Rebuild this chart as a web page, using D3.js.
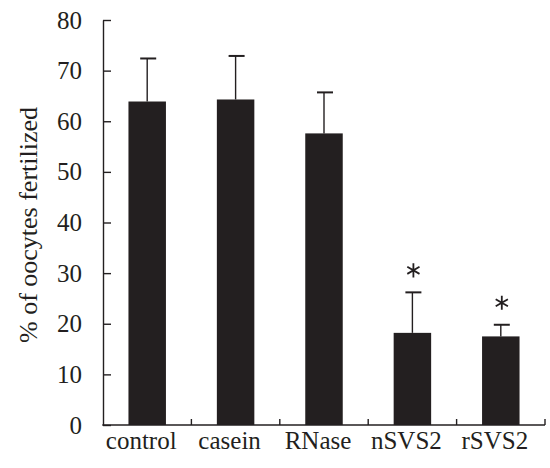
<!DOCTYPE html>
<html>
<head>
<meta charset="utf-8">
<script src="https://d3js.org/d3.v7.min.js"></script>
<style>
  html, body { margin: 0; padding: 0; background: #fff; }
  svg { display: block; }
  text { font-family: "Liberation Serif", "Times New Roman", serif; fill: #231f20; }
</style>
</head>
<body>
<svg id="chart" width="550" height="468"></svg>
<script>
const categories = ["control", "casein", "RNase", "nSVS2", "rSVS2"];
const means = [63.9, 64.3, 57.6, 18.2, 17.5];
const errors = [8.5, 8.6, 8.1, 8.0, 2.3];
const significant = [false, false, false, true, true];
const yTicks = [0, 10, 20, 30, 40, 50, 60, 70, 80];
const yLabel = "% of oocytes fertilized";

(function () {
const ink = "#231f20";
const svg = d3.select("#chart");
const mLeft = 103, mRight = 545, mTop = 20, mBottom = 425;

const x = d3.scaleBand().domain(categories).range([mLeft, mRight])
  .paddingInner(0.576).paddingOuter(0.288);
const y = d3.scaleLinear().domain([0, 80]).range([mBottom, mTop]);

// Bars
svg.append("g").selectAll("rect").data(categories).join("rect")
  .attr("x", d => x(d))
  .attr("y", (d, i) => y(means[i]))
  .attr("width", x.bandwidth())
  .attr("height", (d, i) => y(0) - y(means[i]))
  .attr("fill", ink);

// Error bars (upper only) + significance asterisks
const eg = svg.append("g").attr("stroke", ink);
const ast = d3.symbol().type(d3.symbolAsterisk || d3.symbolCross).size(140);
categories.forEach((c, i) => {
  const cx = x(c) + x.bandwidth() / 2;
  const yt = y(means[i] + errors[i]);
  eg.append("line").attr("x1", cx).attr("x2", cx)
    .attr("y1", y(means[i])).attr("y2", yt)
    .attr("stroke-width", 1.4);
  eg.append("line").attr("x1", cx - 7).attr("x2", cx + 9)
    .attr("y1", yt).attr("y2", yt)
    .attr("stroke-width", 2);
  if (significant[i]) {
    svg.append("path").attr("d", ast())
      .attr("transform", `translate(${cx + 1},${yt - 22})`)
      .attr("fill", "none").attr("stroke", ink).attr("stroke-width", 1.8);
  }
});

// Y axis
const yAxis = svg.append("g").attr("transform", `translate(${mLeft},0)`)
  .call(d3.axisLeft(y).tickValues(yTicks).tickSize(-8).tickPadding(21).tickSizeOuter(0));
yAxis.select(".domain").attr("stroke", ink).attr("stroke-width", 1.4);
yAxis.selectAll(".tick line").attr("stroke", ink).attr("stroke-width", 1.4);
yAxis.selectAll(".tick text").attr("font-size", 25)
  .attr("font-family", "Liberation Serif, serif").attr("fill", ink);

// X axis
svg.append("line").attr("x1", mLeft - 0.7).attr("x2", mRight)
  .attr("y1", mBottom).attr("y2", mBottom)
  .attr("stroke", ink).attr("stroke-width", 1.4);
const xt = svg.append("g");
categories.forEach((c, i) => {
  const edge = x(c) + x.bandwidth() + x.step() * x.paddingInner() / 2;
  xt.append("line").attr("x1", edge).attr("x2", edge)
    .attr("y1", mBottom).attr("y2", mBottom - 6)
    .attr("stroke", ink).attr("stroke-width", 1.4);
  svg.append("text").attr("x", x(c) + x.bandwidth() / 2 - 6).attr("y", 449)
    .attr("text-anchor", "middle").attr("font-size", 25).text(c);
});

// Y label
svg.append("text").attr("transform", "rotate(-90)")
  .attr("x", -225).attr("y", 37)
  .attr("text-anchor", "middle").attr("font-size", 26).text(yLabel);
})();
</script>
</body>
</html>
